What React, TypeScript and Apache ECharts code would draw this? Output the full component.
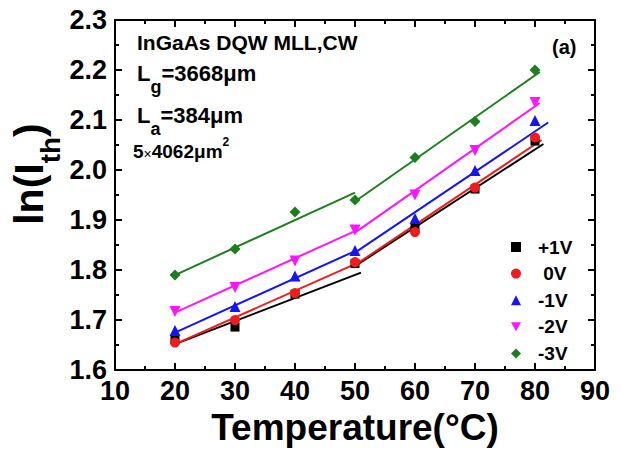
import React, { useEffect, useRef } from "react";
import * as echarts from "echarts";

const temps = [20, 30, 40, 50, 60, 70, 80];
const seriesNames = ["+1V", " 0V", "-1V", "-2V", "-3V"];
const vPlus1 = [1.661, 1.686, 1.752, 1.813, 1.885, 1.962, 2.058];
const v0 = [1.655, 1.7, 1.754, 1.816, 1.876, 1.965, 2.065];
const vMinus1 = [1.679, 1.727, 1.788, 1.839, 1.903, 1.999, 2.099];
const vMinus2 = [1.717, 1.765, 1.818, 1.88, 1.95, 2.039, 2.135];
const vMinus3 = [1.79, 1.842, 1.916, 1.94, 2.025, 2.097, 2.2];

// fitted line segments [x, y] (low-temperature part and high-temperature part)
const fitPlus1 = [[[20, 1.652], [51, 1.795]], [[50, 1.808], [81.4, 2.052]]];
const fit0 = [[[20, 1.652], [50, 1.812]], [[50, 1.81], [81.1, 2.06]]];
const fitMinus1 = [[[20, 1.675], [50, 1.838]], [[50, 1.835], [82.2, 2.095]]];
const fitMinus2 = [[[20, 1.715], [50, 1.878]], [[50, 1.875], [80.8, 2.134]]];
const fitMinus3 = [[[20, 1.79], [50, 1.955]], [[50, 1.937], [80.8, 2.196]]];

const xTicks = { min: 10, max: 90, interval: 10 };
const yTicks = { min: 1.6, max: 2.3, interval: 0.1 };

const colors = ["#000000", "#ee1c1c", "#1414f5", "#ff14ff", "#1e7d1e"];
const symbols = ["rect", "circle", "triangle", "path://M0,0 L10,0 L5,9 Z", "diamond"];
const symbolSizes = [9, 10, 11, 11, 11];

const FONT = "'Liberation Sans', Arial, sans-serif";

export default function App() {
  const ref = useRef<HTMLDivElement>(null);

  useEffect(() => {
    document.body.style.margin = "0";
    if (!ref.current) return;
    const chart = echarts.init(ref.current, null, { renderer: "svg" });
    const values = [vPlus1, v0, vMinus1, vMinus2, vMinus3];
    const fits = [fitPlus1, fit0, fitMinus1, fitMinus2, fitMinus3];

    const series: any[] = [];
    fits.forEach((segs, i) => {
      segs.forEach((seg) => {
        series.push({
          type: "line",
          name: "fit" + i,
          data: seg,
          showSymbol: false,
          symbol: "none",
          lineStyle: { color: colors[i], width: 2 },
          itemStyle: { color: colors[i] },
          z: 2,
          silent: true,
        });
      });
    });
    values.forEach((vals, i) => {
      series.push({
        type: "scatter",
        name: seriesNames[i],
        data: temps.map((t, k) => [t, vals[k]]),
        symbol: symbols[i],
        symbolSize: symbolSizes[i],
        itemStyle: { color: colors[i], opacity: 1 },
        z: 3,
      });
    });

    const axisLine = { show: true, onZero: false, lineStyle: { color: "#000", width: 2 } };
    const tickStyle = { color: "#000", width: 2 };

    chart.setOption({
      animation: false,
      backgroundColor: "#fff",
      grid: { left: 115, top: 20, right: 26, bottom: 74, containLabel: false },
      legend: {
        data: seriesNames,
        orient: "vertical",
        left: 506,
        top: 232,
        itemWidth: 10,
        itemHeight: 10,
        itemGap: 6.6,
        textStyle: {
          fontSize: 19,
          fontWeight: "bold",
          fontFamily: FONT,
          color: "#000",
          lineHeight: 20,
          padding: [0, 0, 0, 12],
        },
      },
      xAxis: [
        {
          type: "value",
          ...xTicks,
          position: "bottom",
          axisLine,
          axisTick: { show: true, inside: true, length: 7, lineStyle: tickStyle },
          minorTick: { show: true, splitNumber: 2, length: 4, lineStyle: tickStyle },
          splitLine: { show: false },
          axisLabel: {
            fontSize: 27,
            fontWeight: "bold",
            fontFamily: FONT,
            color: "#000",
            margin: 7,
          },
          name: "Temperature(°C)",
          nameLocation: "middle",
          nameGap: 34,
          nameTextStyle: { fontSize: 37, fontWeight: "bold", fontFamily: FONT, color: "#000" },
        },
        {
          type: "value",
          ...xTicks,
          position: "top",
          axisLine,
          axisTick: { show: true, inside: true, length: 7, lineStyle: tickStyle },
          minorTick: { show: true, splitNumber: 2, length: 4, lineStyle: tickStyle },
          splitLine: { show: false },
          axisLabel: { show: false },
        },
      ],
      yAxis: [
        {
          type: "value",
          ...yTicks,
          position: "left",
          axisLine,
          axisTick: { show: true, inside: true, length: 7, lineStyle: tickStyle },
          minorTick: { show: true, splitNumber: 2, length: 4, lineStyle: tickStyle },
          splitLine: { show: false },
          axisLabel: {
            fontSize: 27,
            fontWeight: "bold",
            fontFamily: FONT,
            color: "#000",
            margin: 8,
            formatter: (v: number) => v.toFixed(1),
          },
        },
        {
          type: "value",
          ...yTicks,
          position: "right",
          axisLine,
          axisTick: { show: true, inside: true, length: 7, lineStyle: tickStyle },
          minorTick: { show: true, splitNumber: 2, length: 4, lineStyle: tickStyle },
          splitLine: { show: false },
          axisLabel: { show: false },
        },
      ],
      graphic: [
        {
          type: "text",
          x: 36,
          y: 174,
          rotation: Math.PI / 2,
          style: {
            text: "{m|ln(I}{s|th}{m|)}",
            align: "center",
            verticalAlign: "middle",
            fill: "#000",
            rich: {
              m: { fontSize: 41, fontWeight: "bold", fontFamily: FONT, fill: "#000", verticalAlign: "top" },
              s: { fontSize: 28, fontWeight: "bold", fontFamily: FONT, fill: "#000", lineHeight: 56, verticalAlign: "bottom" },
            },
          },
        },
        {
          type: "text",
          left: 137,
          top: 32,
          style: { text: "InGaAs DQW MLL,CW", font: `bold 21px ${FONT}`, fill: "#000" },
        },
        {
          type: "text",
          left: 137,
          top: 62,
          style: {
            text: "{m|L}{s|g}{m|=3668μm}",
            fill: "#000",
            rich: {
              m: { fontSize: 22, fontWeight: "bold", fontFamily: FONT, fill: "#000", verticalAlign: "top" },
              s: { fontSize: 18, fontWeight: "bold", fontFamily: FONT, fill: "#000", lineHeight: 34, verticalAlign: "bottom" },
            },
          },
        },
        {
          type: "text",
          left: 137,
          top: 104,
          style: {
            text: "{m|L}{s|a}{m|=384μm}",
            fill: "#000",
            rich: {
              m: { fontSize: 22, fontWeight: "bold", fontFamily: FONT, fill: "#000", verticalAlign: "top" },
              s: { fontSize: 18, fontWeight: "bold", fontFamily: FONT, fill: "#000", lineHeight: 34, verticalAlign: "bottom" },
            },
          },
        },
        {
          type: "text",
          left: 133,
          top: 136,
          style: {
            text: "{m|5}{x|×}{m|4062μm}{p|2}",
            fill: "#000",
            rich: {
              m: { fontSize: 19, fontWeight: "bold", fontFamily: FONT, fill: "#000", lineHeight: 25, verticalAlign: "bottom" },
              x: { fontSize: 14, fontWeight: "normal", fontFamily: FONT, fill: "#000", lineHeight: 25, verticalAlign: "bottom" },
              p: { fontSize: 12, fontWeight: "bold", fontFamily: FONT, fill: "#000", lineHeight: 12, verticalAlign: "top" },
            },
          },
        },
        {
          type: "text",
          left: 552,
          top: 37,
          style: { text: "(a)", font: `bold 20px ${FONT}`, fill: "#000" },
        },
      ],
      series,
    });

    return () => chart.dispose();
  }, []);

  return <div ref={ref} style={{ width: 621, height: 451 }} />;
}
